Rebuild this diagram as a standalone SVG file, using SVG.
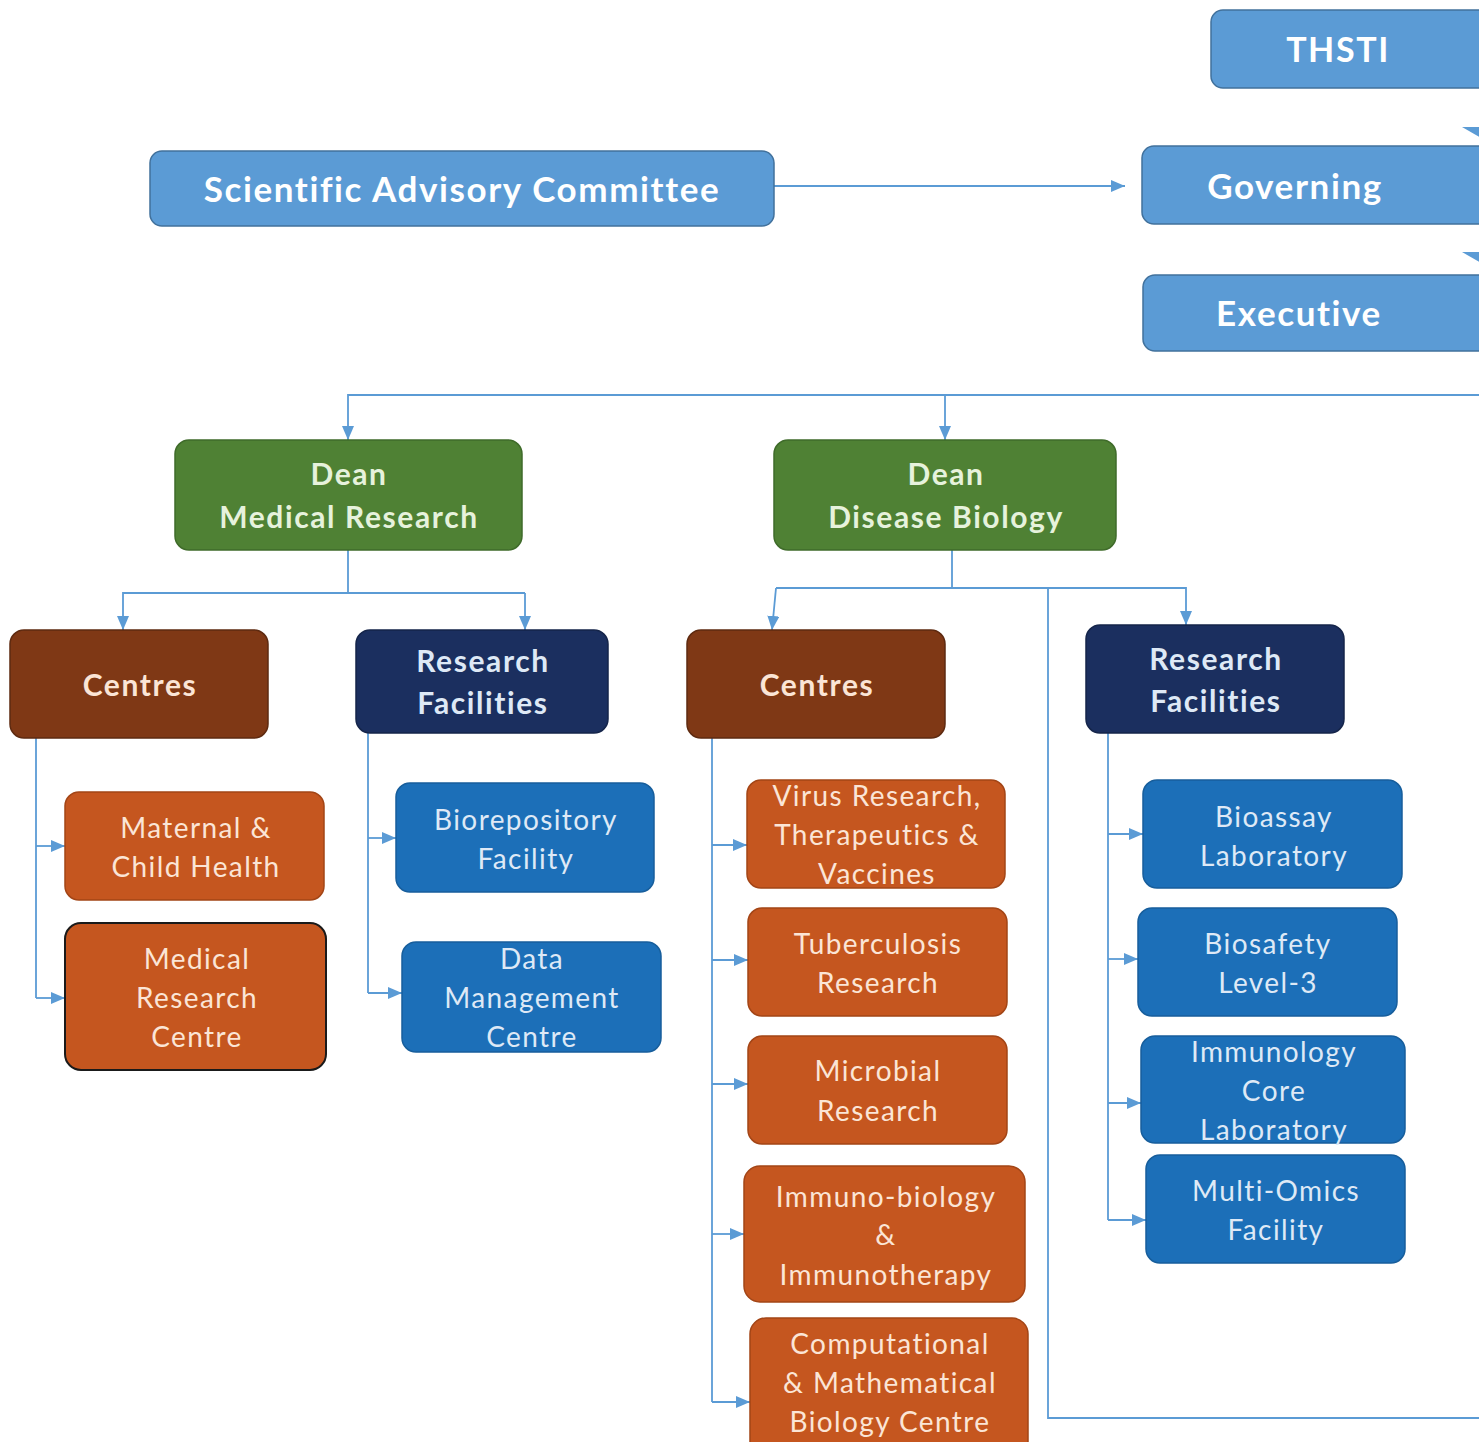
<svg xmlns="http://www.w3.org/2000/svg" width="1479" height="1442" viewBox="0 0 1479 1442">
<defs>
<style>
.top{fill:#5b9bd5;stroke:#41719c;stroke-width:1.5}
.green{fill:#4f8134;stroke:#3f6b2a;stroke-width:1.5}
.brown{fill:#7f3815;stroke:#5e2a10;stroke-width:1.5}
.navy{fill:#1b2f5f;stroke:#15254a;stroke-width:1.5}
.orange{fill:#c5561f;stroke:#a34516;stroke-width:1.5}
.blue{fill:#1c6fb8;stroke:#175e9c;stroke-width:1.5}
.tb{font-family:Lato,"Liberation Sans",sans-serif;font-weight:bold;text-anchor:middle;letter-spacing:1.6px}
.tr{font-family:Lato,"Liberation Sans",sans-serif;text-anchor:middle;font-size:28px;letter-spacing:1.4px}
.w{fill:#ffffff}
.g{fill:#e6f2dc}
.c{fill:#fbe5d6}
.b{fill:#dee9f6}
.conn{fill:none;stroke:#5b9bd5;stroke-width:1.8}
</style>
<marker id="ah" viewBox="0 0 14 12" markerWidth="14" markerHeight="12" refX="14" refY="6" orient="auto" markerUnits="userSpaceOnUse">
<path d="M0,0 L14,6 L0,12 z" fill="#5b9bd5"/>
</marker>
</defs>
<rect width="1479" height="1442" fill="#ffffff"/>

<g id="connectors">
<path class="conn" d="M774,186 H1125" marker-end="url(#ah)"/>
<polygon points="1462,127 1528,127 1495,146" fill="#5b9bd5"/>
<polygon points="1462,252 1528,252 1495,271" fill="#5b9bd5"/>
<path class="conn" d="M1479,395 H348 V440" marker-end="url(#ah)"/>
<path class="conn" d="M945,395 V440" marker-end="url(#ah)"/>
<path class="conn" d="M348,550 V593"/>
<path class="conn" d="M525,593 H123 V630" marker-end="url(#ah)"/>
<path class="conn" d="M525,593 V630" marker-end="url(#ah)"/>
<path class="conn" d="M952,550 V588"/>
<path class="conn" d="M776,588 H1186 V625" marker-end="url(#ah)"/>
<path class="conn" d="M776,588 L772,630" marker-end="url(#ah)"/>
<path class="conn" d="M1048,588 V1418 H1479"/>
<path class="conn" d="M36,738 V998"/>
<path class="conn" d="M36,846 H65" marker-end="url(#ah)"/>
<path class="conn" d="M36,998 H65" marker-end="url(#ah)"/>
<path class="conn" d="M368,733 V993"/>
<path class="conn" d="M368,838 H396" marker-end="url(#ah)"/>
<path class="conn" d="M368,993 H402" marker-end="url(#ah)"/>
<path class="conn" d="M712,738 V1402"/>
<path class="conn" d="M712,845 H747" marker-end="url(#ah)"/>
<path class="conn" d="M712,960 H748" marker-end="url(#ah)"/>
<path class="conn" d="M712,1084 H748" marker-end="url(#ah)"/>
<path class="conn" d="M712,1234 H744" marker-end="url(#ah)"/>
<path class="conn" d="M712,1402 H750" marker-end="url(#ah)"/>
<path class="conn" d="M1108,733 V1220"/>
<path class="conn" d="M1108,834 H1143" marker-end="url(#ah)"/>
<path class="conn" d="M1108,959 H1138" marker-end="url(#ah)"/>
<path class="conn" d="M1108,1103 H1141" marker-end="url(#ah)"/>
<path class="conn" d="M1108,1220 H1146" marker-end="url(#ah)"/>
</g>

<g id="thsti"><rect class="top" x="1211" y="10" width="300" height="78" rx="12"/><text class="tb w" x="1338" y="62" font-size="34">THSTI</text></g>
<g id="sac"><rect class="top" x="150" y="151" width="624" height="75" rx="12"/><text class="tb w" x="462" y="202" font-size="35">Scientific Advisory Committee</text></g>
<g id="governing"><rect class="top" x="1142" y="146" width="370" height="78" rx="12"/><text class="tb w" x="1295" y="199" font-size="35">Governing</text></g>
<g id="executive"><rect class="top" x="1143" y="275" width="370" height="76" rx="12"/><text class="tb w" x="1299" y="326" font-size="35">Executive</text></g>

<g id="dean-mr"><rect class="green" x="175" y="440" width="347" height="110" rx="14"/><text class="tb g" font-size="30"><tspan x="349" y="485">Dean</tspan><tspan x="349" y="528">Medical Research</tspan></text></g>
<g id="dean-db"><rect class="green" x="774" y="440" width="342" height="110" rx="14"/><text class="tb g" font-size="30"><tspan x="946" y="485">Dean</tspan><tspan x="946" y="528">Disease Biology</tspan></text></g>

<g id="centres-mr"><rect class="brown" x="10" y="630" width="258" height="108" rx="14"/><text class="tb c" x="140" y="696" font-size="30">Centres</text></g>
<g id="rf-mr"><rect class="navy" x="356" y="630" width="252" height="103" rx="14"/><text class="tb b" font-size="30"><tspan x="483" y="672">Research</tspan><tspan x="483" y="714">Facilities</tspan></text></g>
<g id="centres-db"><rect class="brown" x="687" y="630" width="258" height="108" rx="14"/><text class="tb c" x="817" y="696" font-size="30">Centres</text></g>
<g id="rf-db"><rect class="navy" x="1086" y="625" width="258" height="108" rx="14"/><text class="tb b" font-size="30"><tspan x="1216" y="670">Research</tspan><tspan x="1216" y="712">Facilities</tspan></text></g>

<g id="maternal"><rect class="orange" x="65" y="792" width="259" height="108" rx="14"/><text class="tr c"><tspan x="196" y="838">Maternal &amp;</tspan><tspan x="196" y="877">Child Health</tspan></text></g>
<g id="mrc"><rect class="orange" x="65" y="923" width="261" height="147" rx="16" style="stroke:#1a1a1a;stroke-width:2"/><text class="tr c"><tspan x="197" y="969">Medical</tspan><tspan x="197" y="1008">Research</tspan><tspan x="197" y="1047">Centre</tspan></text></g>
<g id="biorepository"><rect class="blue" x="396" y="783" width="258" height="109" rx="14"/><text class="tr b"><tspan x="526" y="830">Biorepository</tspan><tspan x="526" y="869">Facility</tspan></text></g>
<g id="dmc"><rect class="blue" x="402" y="942" width="259" height="110" rx="14"/><text class="tr b"><tspan x="532" y="969">Data</tspan><tspan x="532" y="1008">Management</tspan><tspan x="532" y="1047">Centre</tspan></text></g>

<g id="virus"><rect class="orange" x="747" y="780" width="258" height="108" rx="14"/><text class="tr c"><tspan x="877" y="806">Virus Research,</tspan><tspan x="877" y="845">Therapeutics &amp;</tspan><tspan x="877" y="884">Vaccines</tspan></text></g>
<g id="tb"><rect class="orange" x="748" y="908" width="259" height="108" rx="14"/><text class="tr c"><tspan x="878" y="954">Tuberculosis</tspan><tspan x="878" y="993">Research</tspan></text></g>
<g id="microbial"><rect class="orange" x="748" y="1036" width="259" height="108" rx="14"/><text class="tr c"><tspan x="878" y="1081">Microbial</tspan><tspan x="878" y="1121">Research</tspan></text></g>
<g id="immuno"><rect class="orange" x="744" y="1166" width="281" height="136" rx="16"/><text class="tr c"><tspan x="886" y="1207">Immuno-biology</tspan><tspan x="886" y="1245">&amp;</tspan><tspan x="886" y="1285">Immunotherapy</tspan></text></g>
<g id="computational"><rect class="orange" x="750" y="1318" width="278" height="140" rx="16"/><text class="tr c"><tspan x="890" y="1354">Computational</tspan><tspan x="890" y="1393">&amp; Mathematical</tspan><tspan x="890" y="1432">Biology Centre</tspan></text></g>

<g id="bioassay"><rect class="blue" x="1143" y="780" width="259" height="108" rx="14"/><text class="tr b"><tspan x="1274" y="827">Bioassay</tspan><tspan x="1274" y="866">Laboratory</tspan></text></g>
<g id="biosafety"><rect class="blue" x="1138" y="908" width="259" height="108" rx="14"/><text class="tr b"><tspan x="1268" y="954">Biosafety</tspan><tspan x="1268" y="993">Level-3</tspan></text></g>
<g id="immunology"><rect class="blue" x="1141" y="1036" width="264" height="107" rx="14"/><text class="tr b"><tspan x="1274" y="1062">Immunology</tspan><tspan x="1274" y="1101">Core</tspan><tspan x="1274" y="1140">Laboratory</tspan></text></g>
<g id="multiomics"><rect class="blue" x="1146" y="1155" width="259" height="108" rx="14"/><text class="tr b"><tspan x="1276" y="1201">Multi-Omics</tspan><tspan x="1276" y="1240">Facility</tspan></text></g>
</svg>
